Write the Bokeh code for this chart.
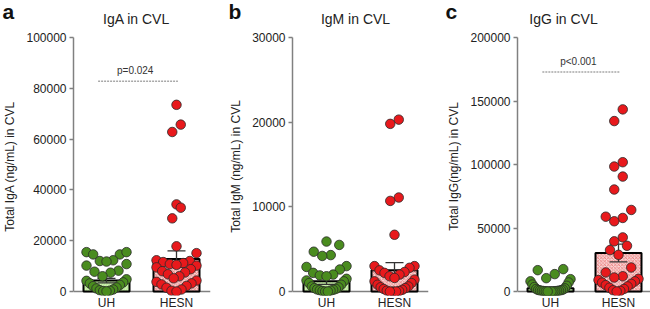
import numpy as np
from bokeh.plotting import figure
from bokeh.layouts import row, column
from bokeh.models import FixedTicker, Span, Label, Range1d, BasicTickFormatter
from bokeh.core.properties import value
from bokeh.embed import file_html
from bokeh.resources import INLINE

# ---------------- data ----------------
groups = ["UH", "HESN"]

iga_uh = [15500, 14600, 14600, 15500, 12300, 12000, 11800, 10800, 10200, 8200, 7800,
          7400, 6000, 4800, 4200, 3600, 3200, 2600, 2100, 1600, 1200, 800, 500, 300, 150, 50]
iga_hesn = [73500, 65700, 62800, 34300, 33000, 28800, 17800, 15100, 12300, 12000, 11600,
            11200, 10800, 10500, 10200, 9500, 8800, 8000, 7500, 6800, 6000, 5200, 4300,
            3800, 3200, 2800, 2200, 1500, 800, 300, 0]
igm_uh = [5900, 5500, 4700, 4300, 4200, 3000, 2900, 2600, 2200, 2000, 1900, 1800, 1500,
          1300, 1200, 1000, 800, 600, 500, 400, 300, 250, 200, 150, 100, 50, 0, 0]
igm_hesn = [20300, 19800, 11100, 10700, 6700, 3000, 3000, 2800, 2500, 2300, 2200, 2000,
            1800, 1600, 1400, 1200, 1000, 800, 600, 500, 400, 300, 200, 100, 50, 0, 0, 0]
igg_uh = [17600, 16800, 13700, 10500, 9700, 8000, 7100, 5500, 4500, 3500, 2500, 2000,
          1500, 1200, 1000, 800, 600, 500, 400, 300, 200, 100, 50, 0, 0, 0]
igg_hesn = [143400, 134200, 101800, 98400, 90500, 80300, 64200, 58900, 57900, 55300,
            42600, 39500, 36000, 32600, 28900, 18900, 15000, 12000, 11000, 10000, 9000,
            8000, 7000, 6000, 5000, 4000, 3000, 2000, 1000, 500, 0]

iga_mean = [4300, 12800]
iga_sem = [900, 3200]
igm_mean = [1200, 2500]
igm_sem = [350, 900]
igg_mean = [2500, 30300]
igg_sem = [1000, 7000]

titles = ["IgA in CVL", "IgM in CVL", "IgG in CVL"]
ylabels = ["Total IgA (ng/mL) in CVL", "Total IgM (ng/mL) in CVL", "Total IgG(ng/mL) in CVL"]
letters = ["a", "b", "c"]
ymaxes = [100000, 30000, 200000]
yticks = [[0, 20000, 40000, 60000, 80000, 100000],
          [0, 10000, 20000, 30000],
          [0, 50000, 100000, 150000, 200000]]
pvalues = ["p=0.024", None, "p<0.001"]
pline_y = [82800, None, 172900]

# ---------------- layout constants ----------------
FONT = "Liberation Sans"
STRIP_H = 28
FRAME_TOP = 37            # page y of the top of the plotting frame
ZERO_PX = 291             # page y of value 0
FRAME_BOTTOM = 295
FRAME_H = FRAME_BOTTOM - FRAME_TOP
GREEN = "#4a8c1f"
RED = "#e8191c"
AXIS = "#808080"
DIAM = 9.5

panels = [
    dict(left=68, fw=137, right=10, c1=33, ppu=70.0),
    dict(left=72, fw=136, right=10, c1=34, ppu=68.0),
    dict(left=79, fw=135, right=3, c1=33, ppu=68.0),
]
title_x = [136, 355, 563]
letter_x = [2, 228, 445]
values = [(iga_uh, iga_hesn), (igm_uh, igm_hesn), (igg_uh, igg_hesn)]
means = [iga_mean, igm_mean, igg_mean]
sems = [iga_sem, igm_sem, igg_sem]


def swarm(vals, px_per_val, bin_h=13.0, spacing=8.5, maxw=20.0):
    """Prism-like scatter arrangement: rows of points centred on the category."""
    vals = np.asarray(vals, dtype=float)
    ypx = vals * px_per_val
    offs = np.zeros(len(vals))
    order = np.argsort(ypx, kind="stable")
    rows = []
    cur = []
    start = None
    for i in order:
        if start is None or ypx[i] - start >= bin_h:
            if cur:
                rows.append(cur)
            cur = [i]
            start = ypx[i]
        else:
            cur.append(i)
    if cur:
        rows.append(cur)
    for r in rows:
        n = len(r)
        sp = spacing if n == 1 else min(spacing, 2 * maxw / (n - 1))
        slots = sorted([j - (n - 1) / 2 for j in range(n)], key=lambda s: (abs(s), s))
        for idx, slot in zip(r, slots):
            offs[idx] = slot * sp
    return offs


# ---------------- title strip ----------------
strip = figure(width=650, height=STRIP_H, x_range=Range1d(0, 650),
               y_range=Range1d(STRIP_H, 0), output_backend="svg",
               toolbar_location=None, min_border=0)
strip.axis.visible = False
strip.grid.visible = False
strip.outline_line_color = None
strip.text(x=title_x, y=[18, 18, 18], text=titles, text_font=value(FONT),
           text_font_size="14px", text_color="#222222", text_align="center",
           text_baseline="middle")
strip.text(x=letter_x, y=[11, 11, 11], text=letters, text_font=value(FONT),
           text_font_size="21px", text_font_style="bold", text_color="#111111",
           text_align="left", text_baseline="middle")

figs = []
for k in range(3):
    pc = panels[k]
    ymax = ymaxes[k]
    px_per_val = (ZERO_PX - FRAME_TOP) / ymax
    ystart = -(FRAME_BOTTOM - ZERO_PX) / px_per_val
    ppu = pc["ppu"]
    xstart = 1 - pc["c1"] / ppu
    xend = xstart + pc["fw"] / ppu

    p = figure(frame_width=pc["fw"], frame_height=FRAME_H,
               min_border_left=pc["left"], min_border_right=pc["right"],
               min_border_top=FRAME_TOP - STRIP_H, min_border_bottom=14,
               x_range=Range1d(xstart, xend), y_range=Range1d(ystart, ymax),
               output_backend="svg", toolbar_location=None,
               background_fill_color="white", border_fill_color="white")
    p.outline_line_color = None
    p.grid.visible = False

    # axes
    p.yaxis.ticker = FixedTicker(ticks=yticks[k])
    p.yaxis.formatter = BasicTickFormatter(use_scientific=False)
    p.yaxis.bounds = (0, ymax)
    p.yaxis.axis_line_color = AXIS
    p.yaxis.axis_line_width = 1.5
    p.yaxis.major_tick_line_color = AXIS
    p.yaxis.major_tick_line_width = 1.5
    p.yaxis.major_tick_out = 4
    p.yaxis.major_tick_in = 0
    p.yaxis.minor_tick_line_color = None
    p.yaxis.major_label_text_font = FONT
    p.yaxis.major_label_text_font_size = "12px"
    p.yaxis.major_label_text_color = "#222222"
    p.yaxis.major_label_standoff = 3
    p.yaxis.axis_label = ylabels[k]
    p.yaxis.axis_label_text_font = FONT
    p.yaxis.axis_label_text_font_size = "12px"
    p.yaxis.axis_label_text_font_style = "normal"
    p.yaxis.axis_label_text_color = "#222222"
    p.yaxis.axis_label_standoff = 6

    p.xaxis.ticker = FixedTicker(ticks=[1, 2])
    p.xaxis.major_label_overrides = {1: groups[0], 2: groups[1]}
    p.xaxis.axis_line_color = None
    p.xaxis.major_tick_line_color = None
    p.xaxis.minor_tick_line_color = None
    p.xaxis.major_tick_out = 0
    p.xaxis.major_tick_in = 0
    p.xaxis.major_label_standoff = 0
    p.xaxis.major_label_text_font = FONT
    p.xaxis.major_label_text_font_size = "12px"
    p.xaxis.major_label_text_color = "#222222"

    p.add_layout(Span(location=0, dimension="width", line_color=AXIS,
                      line_width=1.5, level="underlay"))

    bw = 46 / ppu
    m = means[k]
    s = sems[k]
    # bars
    p.vbar(x=[1], top=[m[0]], bottom=0, width=bw, fill_color="#cdf2ae",
           hatch_pattern="/", hatch_color="#a8dc86", hatch_scale=5, hatch_weight=0.6,
           line_color="black", line_width=2)
    p.vbar(x=[2], top=[m[1]], bottom=0, width=bw, fill_color="#f9d3d3",
           hatch_pattern="x", hatch_color="#e25a5a", hatch_scale=3.5, hatch_weight=0.6,
           line_color="black", line_width=2)
    # error bars (mean +/- SEM)
    cap = 18 / ppu
    xs = [1, 2]
    p.segment(x0=xs, x1=xs, y0=[m[i] - s[i] for i in range(2)],
              y1=[m[i] + s[i] for i in range(2)], line_color="#333333", line_width=1.3)
    for sign in (1, -1):
        p.segment(x0=[x - cap / 2 for x in xs], x1=[x + cap / 2 for x in xs],
                  y0=[m[i] + sign * s[i] for i in range(2)],
                  y1=[m[i] + sign * s[i] for i in range(2)],
                  line_color="#333333", line_width=1.3)

    # points
    for g, col in ((0, GREEN), (1, RED)):
        v = values[k][g]
        offs = swarm(v, px_per_val) / ppu
        p.scatter(x=[g + 1 + o for o in offs], y=v, size=DIAM, fill_color=col,
                  line_color="#2a2a2a", line_width=0.8)

    # p-value annotation
    if pvalues[k] is not None:
        x0, x1 = 1 - 0.12, 2 + 0.02
        p.segment(x0=[x0], x1=[x1], y0=[pline_y[k]], y1=[pline_y[k]],
                  line_color="#a8a8a8", line_width=1.5, line_dash="2 1")
        p.add_layout(Label(x=(x0 + x1) / 2 - 0.04, y=pline_y[k] + 5 / px_per_val,
                           text=pvalues[k], text_font=FONT, text_font_size="10px",
                           text_color="#333333", text_align="center",
                           text_baseline="bottom"))
    figs.append(p)

layout = column(strip, row(*figs, spacing=0), spacing=0)
open("out.html", "w").write(file_html(layout, INLINE))
